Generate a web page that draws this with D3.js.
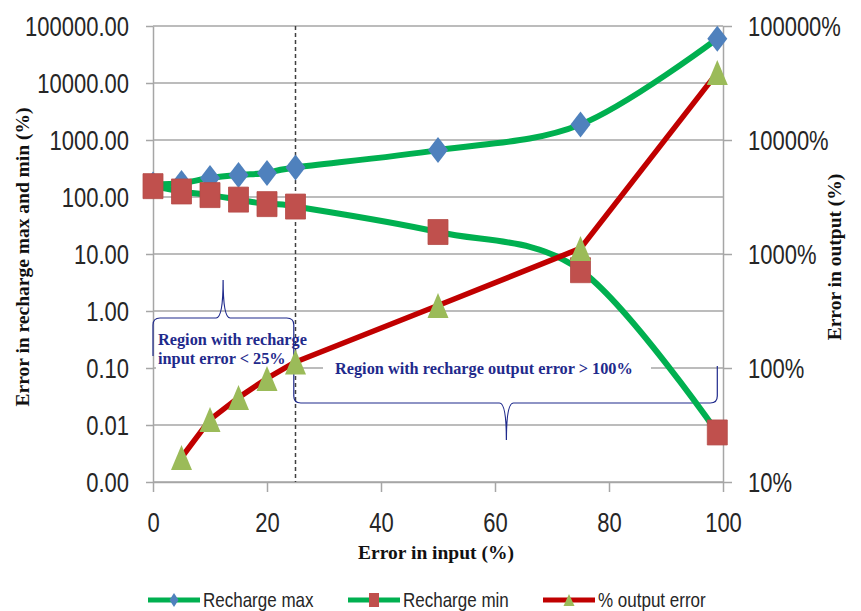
<!DOCTYPE html>
<html><head><meta charset="utf-8">
<script src="https://cdn.jsdelivr.net/npm/d3@7"></script>
<style>
html,body{margin:0;padding:0;background:#fff;}
svg{display:block;}
.tick text, .legtext{font-family:"Liberation Sans",Arial,sans-serif;fill:#262626;
  transform-box:fill-box;transform-origin:center;transform:scale(1,1.22);}
.tick text{font-size:22px;}
.legtext{font-size:17px;}
</style></head>
<body>
<svg id="chart" width="861" height="611"></svg>
<script>
// ---- data ----
const inputError = [0, 5, 10, 15, 20, 25, 50, 75, 99];
const rechargeMax = [165, 176, 215, 243, 264, 330, 665, 1870, 60000];
const rechargeMin = [155, 125, 108, 90, 75, 68, 24.3, 5.2, 0.0074];
const outputErrX = [5, 10, 15, 20, 25, 50, 75, 99];
const outputErr = [16.4, 35.3, 55, 81, 113, 353, 1120, 39000];
const xTicks = [0, 20, 40, 60, 80, 100];
const leftTicks = [0.001, 0.01, 0.1, 1, 10, 100, 1000, 10000, 100000];
const rightTicks = [10, 100, 1000, 10000, 100000];
const seriesNames = ["Recharge max", "Recharge min", "% output error"];

// ---- layout ----
const L = 153, R = 723, T = 26, B = 482;
const svg = d3.select("#chart");
const x = d3.scaleLinear().domain([0, 100]).range([L, R]);
const yL = d3.scaleLog().domain([0.001, 100000]).range([B, T]);
const yR = d3.scaleLog().domain([10, 100000]).range([B, T]);

const GRID = "#a6a6a6";
const GREEN = "#00b050", RED = "#c00000";
const BLUE_M = "#4f81bd", RED_M = "#c0504d", GREEN_M = "#9bbb59";
const NAVY = "#1f2a8c";

// gridlines
svg.append("g").selectAll("line").data(leftTicks).join("line")
  .attr("x1", L).attr("x2", R).attr("y1", d => yL(d)).attr("y2", d => yL(d))
  .attr("stroke", GRID).attr("stroke-width", 1.5);

// axes
const gl = svg.append("g").attr("transform", `translate(${L},0)`)
  .call(d3.axisLeft(yL).tickValues(leftTicks).tickFormat(d => d.toFixed(2)).tickSize(7).tickSizeOuter(0).tickPadding(17));
const gr = svg.append("g").attr("transform", `translate(${R},0)`)
  .call(d3.axisRight(yR).tickValues(rightTicks).tickFormat(d => d + "%").tickSize(9).tickSizeOuter(0).tickPadding(16));
const gb = svg.append("g").attr("transform", `translate(0,${B})`)
  .call(d3.axisBottom(x).tickValues(xTicks).tickSize(10).tickSizeOuter(0).tickPadding(23));
[gl, gr, gb].forEach(g => {
  g.attr("font-family", null).attr("font-size", null);
  g.selectAll(".domain").attr("stroke", GRID).attr("stroke-width", 1.5);
  g.selectAll(".tick line").attr("stroke", GRID).attr("stroke-width", 1.5);
});
gl.selectAll(".tick text").attr("dy", "0.36em");
gr.selectAll(".tick text").attr("dy", "0.36em");

// white annotation boxes
svg.append("rect").attr("x", 156).attr("y", 322).attr("width", 134).attr("height", 50).attr("fill", "#fff");
svg.append("rect").attr("x", 323).attr("y", 356).attr("width", 328).attr("height", 26).attr("fill", "#fff");

// dashed vertical at 25%
svg.append("line").attr("x1", x(25)).attr("x2", x(25)).attr("y1", T).attr("y2", B)
  .attr("stroke", "#404040").attr("stroke-width", 1.5).attr("stroke-dasharray", "4,3");

// braces
const yb1 = 318, yb2 = 403;
svg.append("path").attr("fill", "none").attr("stroke", NAVY).attr("stroke-width", 1.2)
  .attr("d", `M${L},356 V${yb1+7} Q${L},${yb1} ${L+7},${yb1} H${x(12.3)-7} Q${x(12.3)},${yb1} ${x(12.3)},280 Q${x(12.3)},${yb1} ${x(12.3)+7},${yb1} H${x(24.7)-7} Q${x(24.7)},${yb1} ${x(24.7)},${yb1+7} V368`);
svg.append("path").attr("fill", "none").attr("stroke", NAVY).attr("stroke-width", 1.2)
  .attr("d", `M${x(24.7)},368 V${yb2-7} Q${x(24.7)},${yb2} ${x(24.7)+7},${yb2} H${x(62)-7} Q${x(62)},${yb2} ${x(62)},440 Q${x(62)},${yb2} ${x(62)+7},${yb2} H${x(99)-7} Q${x(99)},${yb2} ${x(99)},${yb2-7} V366`);

// annotation text
const annFont = "'Liberation Serif','DejaVu Serif',serif";
const ann = svg.append("g").attr("font-family", annFont).attr("font-weight", "bold").attr("font-size", 16.3).attr("fill", NAVY);
ann.append("text").attr("x", 158).attr("y", 345).text("Region with recharge");
ann.append("text").attr("x", 158).attr("y", 364).text("input error < 25%");
ann.append("text").attr("x", 335).attr("y", 374).text("Region with recharge output error > 100%");

// series
const curve = d3.curveCatmullRom.alpha(0);
const lineL = d3.line().x(d => x(d[0])).y(d => yL(d[1])).curve(curve);
const lineR = d3.line().x(d => x(d[0])).y(d => yR(d[1]));
const maxPts = inputError.map((v, i) => [v, rechargeMax[i]]);
const minPts = inputError.map((v, i) => [v, rechargeMin[i]]);
const errPts = outputErrX.map((v, i) => [v, outputErr[i]]);

const diamond = (w, h) => `M0,${-h/2} L${w/2},0 L0,${h/2} L${-w/2},0 Z`;
const square = (w, h) => `M${-w/2},${-h/2} H${w/2} V${h/2} H${-w/2} Z`;
const tri = (w, h) => `M0,${-h/2} L${w/2},${h/2} L${-w/2},${h/2} Z`;

svg.append("path").datum(maxPts).attr("d", lineL).attr("fill", "none").attr("stroke", GREEN).attr("stroke-width", 6);
svg.append("g").selectAll("path").data(maxPts).join("path")
  .attr("transform", d => `translate(${x(d[0])},${yL(d[1])})`).attr("d", diamond(20, 26)).attr("fill", BLUE_M);

svg.append("path").datum(minPts).attr("d", lineL).attr("fill", "none").attr("stroke", GREEN).attr("stroke-width", 6);
svg.append("g").selectAll("path").data(minPts).join("path")
  .attr("transform", d => `translate(${x(d[0])},${yL(d[1])})`).attr("d", square(20, 25)).attr("fill", RED_M)
  .attr("stroke", "#b54b48").attr("stroke-width", 0.8);

svg.append("path").datum(errPts).attr("d", lineR).attr("fill", "none").attr("stroke", RED).attr("stroke-width", 5.5)
  .attr("stroke-linejoin", "round");
svg.append("g").selectAll("path").data(errPts).join("path")
  .attr("transform", d => `translate(${x(d[0])},${yR(d[1])})`).attr("d", tri(21, 25)).attr("fill", GREEN_M);

// axis titles
const titleFont = "'Liberation Serif','DejaVu Serif',serif";
svg.append("text").attr("x", 436).attr("y", 559).attr("text-anchor", "middle")
  .attr("font-family", titleFont).attr("font-weight", "bold").attr("font-size", 19.5).attr("fill", "#111")
  .text("Error in input (%)");
svg.append("text").attr("transform", "translate(29,257) rotate(-90)").attr("text-anchor", "middle")
  .attr("font-family", titleFont).attr("font-weight", "bold").attr("font-size", 19.5).attr("fill", "#111")
  .text("Error in recharge max and min (%)");
svg.append("text").attr("transform", "translate(841,257) rotate(-90)").attr("text-anchor", "middle")
  .attr("font-family", titleFont).attr("font-weight", "bold").attr("font-size", 19.5).attr("fill", "#111")
  .text("Error in output (%)");

// legend
const legX = [148, 348, 543];
const legLine = [GREEN, GREEN, RED];
const legMarker = [diamond(9, 14), square(10, 14), tri(11, 12)];
const legFill = [BLUE_M, RED_M, GREEN_M];
const lg = svg.append("g").selectAll("g").data(seriesNames).join("g")
  .attr("transform", (d, i) => `translate(${legX[i]},600)`);
lg.append("line").attr("x1", 0).attr("x2", 52).attr("stroke", (d, i) => legLine[i]).attr("stroke-width", 5);
lg.append("path").attr("transform", "translate(26,0)").attr("d", (d, i) => legMarker[i]).attr("fill", (d, i) => legFill[i]);
lg.append("text").attr("class", "legtext").attr("x", 55).attr("y", 6).text(d => d);
</script>
</body></html>
